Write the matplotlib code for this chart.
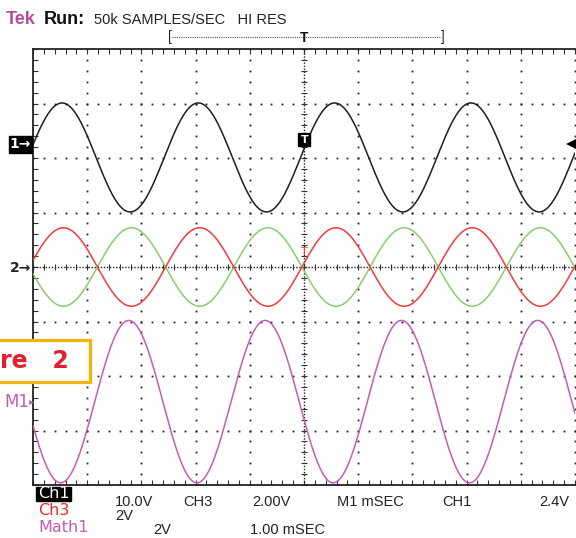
import numpy as np
import matplotlib.pyplot as plt
from matplotlib.patches import Rectangle, FancyBboxPatch

# Waveform readings (in screen divisions), taken off the scope picture
trace_names = ['Ch1', 'Ch2', 'Ch3', 'Math1']
trace_colors = ['#1e1e1e', '#86d06c', '#f03c3c', '#c45cb8']
amplitude_div = [1.0, -0.72, 0.72, -1.49]
offset_div = [2.01, 0.0, 0.0, -2.47]
peak_at_div = [-4.465, -4.44, -4.44, -4.49]
period_div = 2.515

# Readout text along the bottom
readout_row1 = ['10.0V', 'CH3', '2.00V', 'M1 mSEC', 'CH1', '2.4V']
readout_row1_x = [115, 183, 252, 337, 442, 539]

W, H = 576, 538
fig = plt.figure(figsize=(W / 100, H / 100), dpi=100)
fig.patch.set_facecolor('white')

# graticule area (pixels): left 33, right 575, top 49, bottom 485
ax = fig.add_axes([33 / W, (H - 485) / H, (575 - 33) / W, (485 - 49) / H])
ax.set_xlim(-5, 5)
ax.set_ylim(-4, 4)
for s in ['left', 'top', 'bottom']:
    ax.spines[s].set_linewidth(1.3)
    ax.spines[s].set_color('#222222')
ax.spines['right'].set_visible(False)
ax.set_xticks(np.arange(-5, 5.001, 0.2))
ax.set_yticks(np.arange(-4, 4.001, 0.2))
ax.set_xticklabels([])
ax.set_yticklabels([])
ax.tick_params(direction='in', top=True, bottom=True, left=True, right=False,
               length=3.5, width=0.8, color='#333333')

# dotted graticule
minor_x = np.arange(-5, 5.001, 0.2)
minor_y = np.arange(-4, 4.001, 0.2)
for k in [-4, -3, -2, -1, 1, 2, 3, 4, 5]:
    ax.plot(np.full_like(minor_y, k), minor_y, ls='none', marker='s', ms=1.3,
            mew=0, color='#222222')
for j in [-3, -2, -1, 1, 2, 3]:
    ax.plot(minor_x, np.full_like(minor_x, j), ls='none', marker='s', ms=1.3,
            mew=0, color='#222222')

# centre cross with tick marks
ax.axhline(0, ls=(0, (1, 1.2)), lw=1.0, color='#222222')
ax.axvline(0, ls=(0, (1, 1.2)), lw=1.0, color='#222222')
ax.plot(minor_x, np.zeros_like(minor_x), ls='none', marker='|', ms=5, mew=0.8,
        color='#333333')
ax.plot(np.zeros_like(minor_y), minor_y, ls='none', marker='_', ms=5, mew=0.8,
        color='#333333')

# traces
t = np.linspace(-5, 5, 1200)
for name, c, a, off, pk in zip(trace_names, trace_colors, amplitude_div,
                               offset_div, peak_at_div):
    ax.plot(t, off + a * np.cos(2 * np.pi * (t - pk) / period_div),
            color=c, lw=1.1, solid_capstyle='round', zorder=3)

# overlay in pixel coordinates for labels and markers
ov = fig.add_axes([0, 0, 1, 1])
ov.set_xlim(0, W)
ov.set_ylim(H, 0)
ov.axis('off')
ov.patch.set_alpha(0)

# header
ov.text(6, 19, 'Tek', color='#b84aa0', fontsize=13, fontweight='bold',
        family='Liberation Sans', va='center')
ov.text(44, 19, 'Run:', color='#111111', fontsize=13, fontweight='bold',
        family='Liberation Sans', va='center')
ov.text(94, 20.5, '50k SAMPLES/SEC   HI RES', color='#222222', fontsize=10.5,
        family='Liberation Sans', va='center')

# record bar
ov.plot([172, 441], [37, 37], ls=(0, (1, 1)), lw=0.8, color='#555555')
ov.text(168, 37.5, '[', color='#3a1a30', fontsize=10, va='center', ha='left',
        family='Liberation Sans')
ov.text(445, 37.5, ']', color='#3a1a30', fontsize=10, va='center', ha='right',
        family='Liberation Sans')
ov.text(304, 37.5, 'T', color='#111111', fontsize=10, fontweight='bold',
        va='center', ha='center', family='Liberation Sans')

# channel markers on the left
ov.add_patch(Rectangle((9, 136), 23, 17, color='black', zorder=5))
ov.text(20.5, 144.5, '1\u2192', color='white', fontsize=10, fontweight='bold',
        va='center', ha='center', zorder=6)
ov.text(21, 267.5, '2\u2192', color='#222222', fontsize=10, fontweight='bold',
        va='center', ha='center')
ov.text(4, 402, 'M1', color='#c45cb8', fontsize=12, va='center', ha='left')
ov.plot([31], [402], marker='>', ms=3.5, color='#c45cb8', mew=0)

# trigger level arrow on the right
ov.plot([571], [144], marker='<', ms=7, color='black', mew=0)

# trigger markers at centre
ov.add_patch(FancyBboxPatch((299, 134), 11, 12, boxstyle='round,pad=0.5',
                            color='black', zorder=5))
ov.text(304.5, 140, 'T', color='white', fontsize=8, fontweight='bold',
        va='center', ha='center', zorder=6)
ov.text(304, 252, 'T', color='#f03c3c', fontsize=8, va='center', ha='center')

# partial figure caption box
ov.add_patch(Rectangle((-5, 339.5), 95, 42, facecolor='white',
                       edgecolor='#f5b400', lw=2.3, zorder=7))
ov.text(0, 361.5, 're   2', color='#e5202e', fontsize=17, fontweight='bold',
        va='center', ha='left', zorder=8)

# bottom readout
ov.add_patch(Rectangle((36, 487), 35, 14, color='black'))
ov.text(38, 494, 'Ch1', color='white', fontsize=11.5, va='center', ha='left')
ov.text(38, 510.5, 'Ch3', color='#ee2b2b', fontsize=11.5, va='center', ha='left')
ov.text(38, 527, 'Math1', color='#c45cb8', fontsize=11.5, va='center', ha='left')
for s, x in zip(readout_row1, readout_row1_x):
    ov.text(x, 502, s, color='#222222', fontsize=10.5, va='center', ha='left',
            family='Liberation Sans')
ov.text(115, 516, '2V', color='#222222', fontsize=10.5, va='center', ha='left',
        family='Liberation Sans')
ov.text(153, 530, '2V', color='#222222', fontsize=10.5, va='center', ha='left',
        family='Liberation Sans')
ov.text(250, 530, '1.00 mSEC', color='#222222', fontsize=10.5, va='center',
        ha='left', family='Liberation Sans')

fig.savefig('out.png', dpi=100)
